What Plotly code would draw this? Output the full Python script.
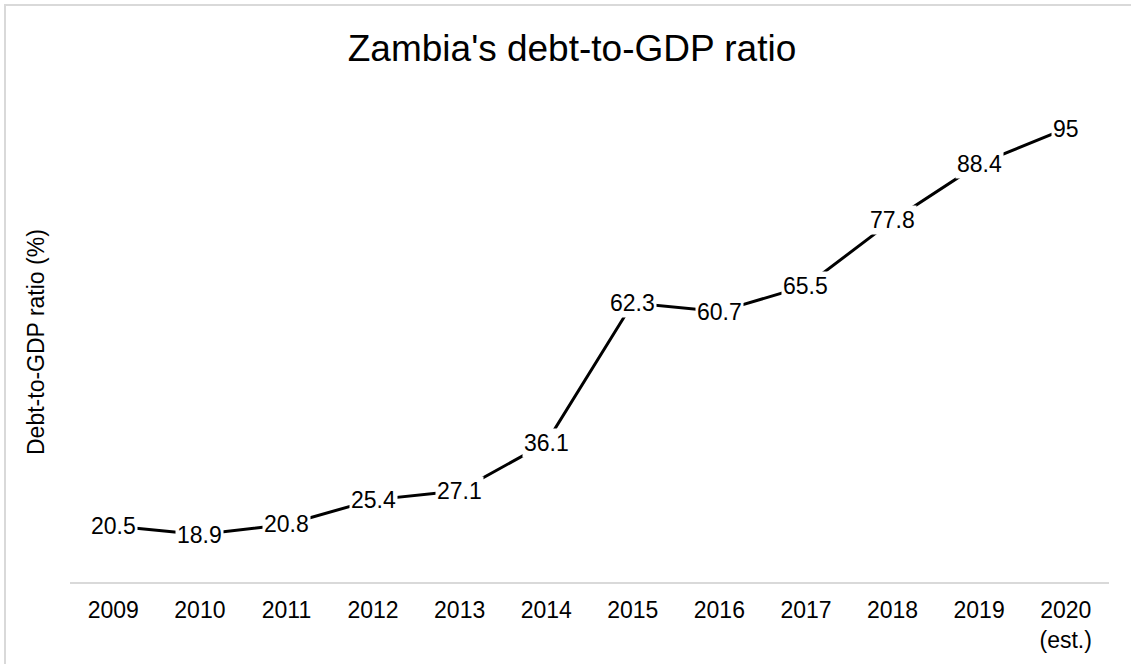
import plotly.graph_objects as go

years = ["2009", "2010", "2011", "2012", "2013", "2014", "2015", "2016", "2017", "2018", "2019", "2020<br>(est.)"]
ratio = [20.5, 18.9, 20.8, 25.4, 27.1, 36.1, 62.3, 60.7, 65.5, 77.8, 88.4, 95]
labels = ["20.5", "18.9", "20.8", "25.4", "27.1", "36.1", "62.3", "60.7", "65.5", "77.8", "88.4", "95"]

W, H = 1131, 664
L, R, T, B = 70, 22, 102, 82
pw, ph = W - L - R, H - T - B
FONT = "Liberation Sans, Arial, sans-serif"

fig = go.Figure()
fig.add_trace(go.Scatter(
    x=years, y=ratio, mode="lines",
    line=dict(color="black", width=3),
    hoverinfo="skip", showlegend=False,
))

for i, (yv, t) in enumerate(zip(ratio, labels)):
    fig.add_annotation(
        x=i, y=yv, xref="x", yref="y", text=t, showarrow=False,
        font=dict(family=FONT, size=23, color="black"),
        bgcolor="white", borderpad=1,
        xanchor="center", yanchor="middle",
    )

# y-axis title
fig.add_annotation(
    x=(36 - L) / pw, y=0.5, xref="paper", yref="paper",
    text="Debt-to-GDP ratio (%)", textangle=-90, showarrow=False,
    font=dict(family=FONT, size=23, color="black"),
    xanchor="center", yanchor="middle",
)

# chart border
fig.add_shape(
    type="rect", xref="paper", yref="paper",
    x0=(5 - L) / pw, x1=(W + 20 - L) / pw,
    y0=(H - B - (H + 20)) / ph, y1=(H - B - 5) / ph,
    line=dict(color="#d9d9d9", width=2), fillcolor="rgba(0,0,0,0)", layer="below",
)

fig.update_layout(
    width=W, height=H,
    margin=dict(l=L, r=R, t=T, b=B),
    paper_bgcolor="white", plot_bgcolor="white",
    title=dict(
        text="Zambia's debt-to-GDP ratio",
        font=dict(family=FONT, size=37, color="black"),
        x=572 / W, xanchor="center", xref="container",
        y=1 - 48 / H, yanchor="middle", yref="container",
    ),
    xaxis=dict(
        type="category", range=[-0.5, len(years) - 0.5],
        showgrid=False, zeroline=False,
        showline=True, linecolor="#d9d9d9", linewidth=2,
        ticks="", tickfont=dict(family=FONT, size=23, color="black"),
        ticklabelstandoff=6,
    ),
    yaxis=dict(
        range=[10, 100], showgrid=False, zeroline=False, showline=False,
        showticklabels=False, ticks="",
    ),
)

fig.write_html(
    "out.html",
    config={"displayModeBar": False},
    post_script="document.body.style.margin='0';document.body.style.overflow='hidden';",
)
